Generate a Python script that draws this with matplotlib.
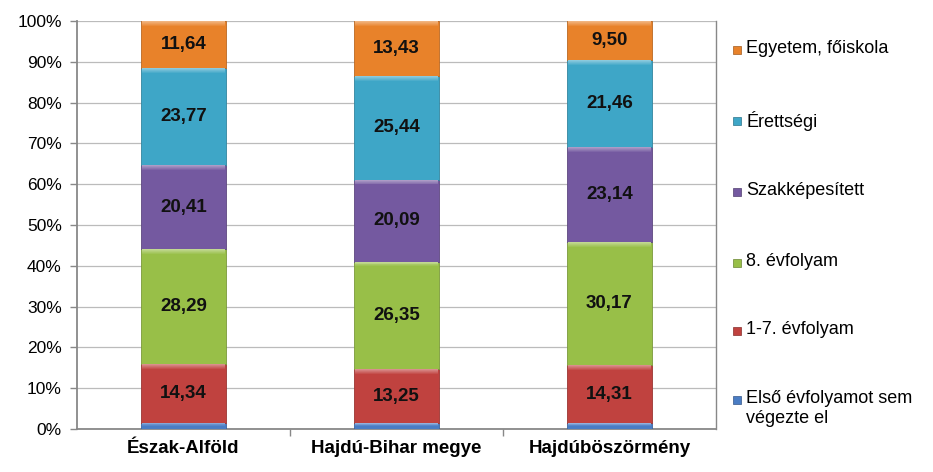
import matplotlib
matplotlib.use("Agg")
import matplotlib.pyplot as plt
import numpy as np
from matplotlib.patches import Rectangle
from matplotlib.colors import to_rgb

plt.rcParams["font.family"] = ["Liberation Sans", "DejaVu Sans"]

categories = ["Észak-Alföld", "Hajdú-Bihar megye", "Hajdúböszörmény"]
series_names = ["Első évfolyamot sem\nvégezte el", "1-7. évfolyam", "8. évfolyam",
                "Szakképesített", "Érettségi", "Egyetem, főiskola"]
elso = [1.55, 1.44, 1.42]
evf_1_7 = [14.34, 13.25, 14.31]
evf_8 = [28.29, 26.35, 30.17]
szakkepesitett = [20.41, 20.09, 23.14]
erettsegi = [23.77, 25.44, 21.46]
egyetem = [11.64, 13.43, 9.50]
series = [elso, evf_1_7, evf_8, szakkepesitett, erettsegi, egyetem]
show_label = [False, True, True, True, True, True]
colors = ["#4A7DC4", "#C0423F", "#98BF48", "#7459A0", "#3EA6C7", "#E8822A"]


def shade(c, f):
    r = np.array(to_rgb(c))
    if f > 0:
        return tuple(r + (1 - r) * f)
    return tuple(r * (1 + f))


fig = plt.figure(figsize=(9.33, 4.72), dpi=100)
ax = fig.add_axes([77 / 933, 1 - 429 / 472, (716 - 77) / 933, (429 - 21) / 472])

x = np.arange(len(categories))
width = 0.4
bottom = np.zeros(len(categories))
for vals, col, lab in zip(series, colors, show_label):
    vals = np.array(vals)
    ax.bar(x, vals, width, bottom=bottom, color=col, edgecolor=shade(col, -0.2),
           linewidth=0.6, zorder=3)
    # soft bevel on the top edge of each segment
    steps = 5
    h = np.minimum(1.2, vals * 0.45) / steps
    for k in range(steps):
        ax.bar(x, h, width * 0.985, bottom=bottom + vals - h * (k + 1),
               color=shade(col, 0.4 * (1 - k / steps)), linewidth=0, zorder=4)
    if lab:
        for xi, b, v in zip(x, bottom, vals):
            ax.text(xi, b + v / 2, f"{v:.2f}".replace(".", ","), ha="center", va="center",
                    fontsize=13.5, fontweight="bold", color="#111111", zorder=5)
    bottom += vals

ax.set_xlim(-0.5, len(categories) - 0.5)
ax.set_ylim(0, 100)
ax.set_yticks(np.arange(0, 101, 10))
ax.set_yticklabels([f"{v}%" for v in range(0, 101, 10)], fontsize=12.5)
ax.yaxis.grid(True, color="#BBBBBB", linewidth=0.9, zorder=0)
ax.set_axisbelow(True)

ax.set_xticks(x)
ax.set_xticklabels(categories, fontsize=13.5, fontweight="bold")
ax.tick_params(axis="x", length=0, pad=8)
ax.set_xticks(np.arange(0.5, len(categories) - 0.5, 1), minor=True)
ax.tick_params(axis="x", which="minor", length=5, color="#888888", width=1)
ax.tick_params(axis="y", length=5, color="#888888", width=1, pad=6)

for s in ["left", "bottom"]:
    ax.spines[s].set_color("#888888")
    ax.spines[s].set_linewidth(1.3)
ax.spines["right"].set_color("#888888")
ax.spines["right"].set_linewidth(1.0)
ax.spines["top"].set_visible(False)

# legend (top entry first, like Excel)
legend_y = [50, 121, 192, 263, 331, 400]
for name, col, yy in zip(series_names[::-1], colors[::-1], legend_y):
    fig.patches.append(Rectangle((733 / 933, 1 - (yy + 4) / 472), 8 / 933, 8 / 472,
                                 transform=fig.transFigure, facecolor=col,
                                 edgecolor=shade(col, -0.3), linewidth=0.5))
    fig.text(746 / 933, 1 - (yy - 10) / 472, name, fontsize=13, va="top", ha="left",
             linespacing=1.2)

fig.savefig("out.png", dpi=100)
